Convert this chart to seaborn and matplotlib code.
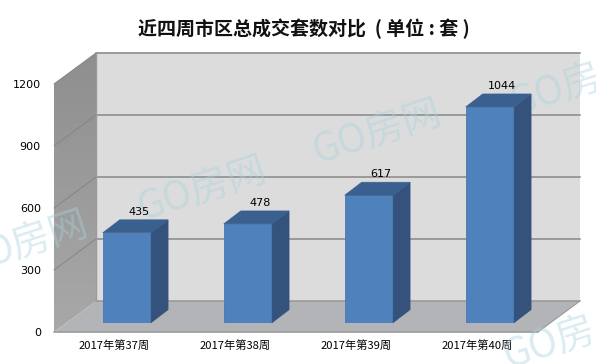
import matplotlib
matplotlib.use('Agg')
import matplotlib.pyplot as plt
import seaborn as sns
import numpy as np
import pandas as pd
from matplotlib.colors import LinearSegmentedColormap
from matplotlib.patches import Polygon

# values
weeks = ['2017年第37周', '2017年第38周', '2017年第39周', '2017年第40周']
deals = [435, 478, 617, 1044]
y_ticks = [0, 300, 600, 900, 1200]
title = '近四周市区总成交套数对比  ( 单位 : 套 )'

W, H = 596, 364
sns.set_theme(style='white')
plt.rcParams['font.family'] = ['Noto Sans CJK SC', 'DejaVu Sans']

fig = plt.figure(figsize=(W / 100, H / 100), dpi=100, facecolor='white')


def px_axes(left, bottom_y, right, top_y):
    return fig.add_axes([left / W, 1 - bottom_y / H, (right - left) / W, (bottom_y - top_y) / H])


# left wall with its gradient, in its own axes so the image is not cropped
ax_wall = px_axes(54, 332, 96, 53)
ax_wall.axis('off')
wall_shape = Polygon([(0, 0), (1, 31 / 279), (1, 1), (0, 248 / 279)], transform=ax_wall.transAxes, fc='none', ec='none')
ax_wall.add_patch(wall_shape)
wall_cmap = LinearSegmentedColormap.from_list('wall', ['#8f8f8f', '#a8a8a8'])
img = ax_wall.imshow(np.linspace(0, 1, 64).reshape(-1, 1), cmap=wall_cmap, aspect='auto')
img.set_clip_path(wall_shape)

# front plane of the fake 3d box
ax = px_axes(54, 332, 538, 84)
ax.set_xlim(-0.5, 3.5)
ax.set_ylim(0, 1200)
ax.patch.set_alpha(0)
sns.despine(ax=ax, left=True, bottom=True, top=True, right=True)

# box depth in data units
dx = 42 / 121
dy = 31 / (248 / 1200)
x0, x1 = -0.5, 3.5
edge = '#9a9a9a'

back = Polygon([(x0 + dx, dy), (x1 + dx, dy), (x1 + dx, 1200 + dy), (x0 + dx, 1200 + dy)],
               fc='#dcdcdc', ec='none', clip_on=False, zorder=1)
ax.add_patch(back)
floor = Polygon([(x0, 0), (x1, 0), (x1 + dx, dy), (x0 + dx, dy)],
                fc='#b2b4b8', ec='none', clip_on=False, zorder=1.5)
ax.add_patch(floor)

for t in y_ticks[1:]:
    ax.plot([x0 + dx, x1 + dx], [t + dy, t + dy], color=edge, lw=1.4, clip_on=False, zorder=1.2)
    ax.plot([x0, x0 + dx], [t, t + dy], color='#858585', lw=0.7, clip_on=False, zorder=1.2)
ax.plot([x0 + dx, x1 + dx], [dy, dy], color=edge, lw=1.2, clip_on=False, zorder=1.6)
ax.plot([x0 + dx, x0 + dx], [dy, 1200 + dy], color=edge, lw=1.0, clip_on=False, zorder=1.6)
ax.plot([x0, x1], [0, 0], color=edge, lw=1.2, clip_on=False, zorder=1.6)
ax.plot([x1, x1 + dx], [0, dy], color=edge, lw=0.8, clip_on=False, zorder=1.6)

ax.set_xticks(range(len(weeks)))
ax.set_xticklabels(weeks, fontsize=8.1, color='black')
ax.set_yticks(y_ticks)
ax.set_yticklabels([str(t) for t in y_ticks], fontsize=8, color='black', family='DejaVu Sans')
ax.tick_params(axis='both', length=0)
ax.tick_params(axis='x', pad=6)
ax.tick_params(axis='y', pad=9.5)
ax.set_xlabel('')
ax.set_ylabel('')

# watermarks sit behind the bars, the ones at the edges are cut there as in the original
for s, x, y in [('GO房网', 203, 190), ('GO房网', 378, 133), ('GO房', 556, 91),
                ('O房网', 37, 240), ('GO房', 550, 344)]:
    ax.text(x / W, 1 - y / H, s, transform=fig.transFigure, ha='center', va='center',
            fontsize=28, rotation=18, color='#a8d3de', alpha=0.42, zorder=3, clip_on=False)

# bars stand a bit behind the front edge, so they get their own axes
ax_bars = px_axes(66.4, 322.7, 550.4, 74.7)
ax_bars.patch.set_alpha(0)
df = pd.DataFrame({'week': weeks, 'deals': deals})
sns.barplot(data=df, x='week', y='deals', color='#4f81bd', saturation=1, width=0.4,
            edgecolor='#4a78b0', linewidth=0.6, ax=ax_bars)
ax_bars.set_xlim(-0.5, 3.5)
ax_bars.set_ylim(0, 1200)
ax_bars.axis('off')

bar_dx = 17 / 121
bar_dy = 13 / (248 / 1200)
for bar, v in zip(list(ax_bars.patches), deals):
    l, r = bar.get_x(), bar.get_x() + bar.get_width()
    ax_bars.add_patch(Polygon([(r, 0), (r + bar_dx, bar_dy), (r + bar_dx, v + bar_dy), (r, v)],
                              fc='#34527c', ec='#34527c', lw=0.4, clip_on=False))
    ax_bars.add_patch(Polygon([(l, v), (r, v), (r + bar_dx, v + bar_dy), (l + bar_dx, v + bar_dy)],
                              fc='#3a6090', ec='#3a6090', lw=0.4, clip_on=False))
    ax_bars.annotate(str(v), ((l + r) / 2, v), xytext=(8.5, 15), textcoords='offset points',
                     ha='center', va='center', fontsize=8, color='black', family='DejaVu Sans',
                     annotation_clip=False)

fig.text(303.5 / W, 1 - 29 / H, title, ha='center', va='center', fontsize=13.7, fontweight='bold', color='#111111')

fig.savefig('out.png', dpi=100)
